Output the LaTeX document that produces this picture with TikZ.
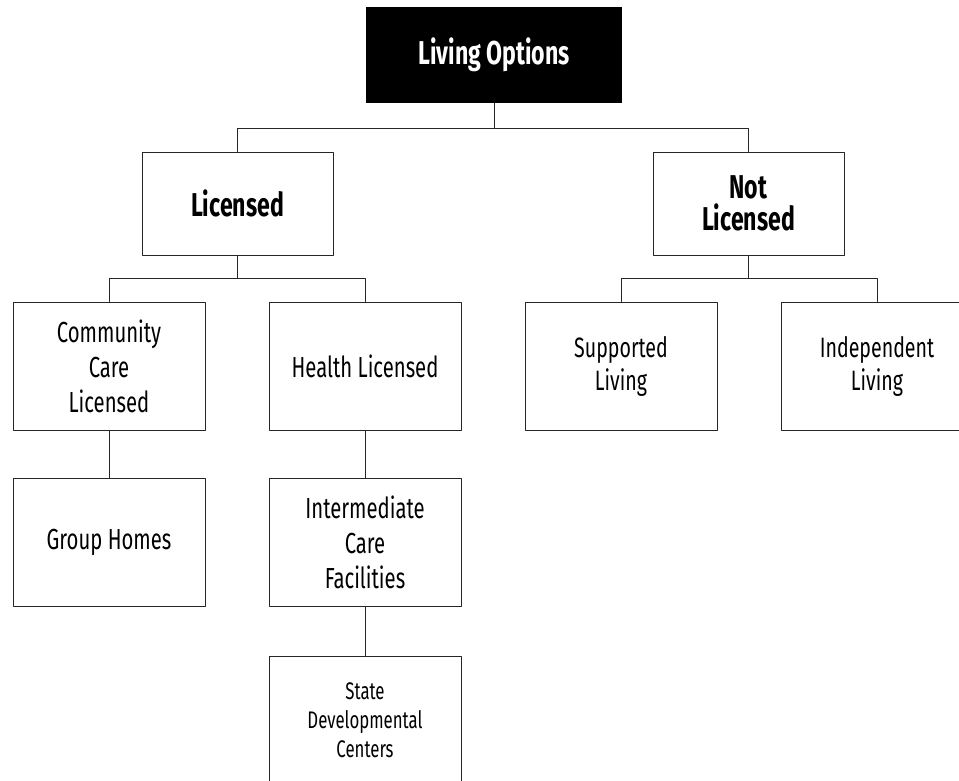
\documentclass[tikz,border=0pt]{standalone}
\usepackage{fontspec}
\setmainfont[FakeStretch=0.7]{Fira Sans}

\begin{document}
\begin{tikzpicture}[
	x=1pt,
	y=-1pt,
	line cap=round,
	line join=round,
	every node/.style={align=center},
	root/.style={
		shape=rectangle,
		minimum width=256pt,
		minimum height=96pt,
		fill=black,
		text=white,
		font=\fontsize{33}{33}\selectfont\bfseries
	},
	branch/.style={
		shape=rectangle,
		minimum width=191pt,
		minimum height=103pt,
		line width=1pt,
		draw=black!85,
		font=\fontsize{33}{32}\selectfont\bfseries
	},
	option/.style={
		shape=rectangle,
		minimum width=192pt,
		minimum height=128pt,
		line width=1pt,
		draw=black!85,
		font=\fontsize{29}{35}\selectfont
	},
	link/.style={line width=1pt, draw=black!85}
	]
	\useasboundingbox (0,0) rectangle (959,780);
	\clip (0,0) rectangle (959,780);
	% top
	\node [root] (living) at (494,55) {Living Options};
	% licensing
	\node [branch] (licensed) at (237.5,203.5) {Licensed};
	\node [branch] (notlicensed) at (748.5,203.5) {Not\\Licensed};
	% licensed options
	\node [option] (community) at (109,366) {Community\\Care\\Licensed};
	\node [option] (health) at (365,366) {Health Licensed};
	\node [option] (grouphomes) at (109,542) {Group Homes};
	\node [option] (intermediate) at (365,542) {Intermediate\\Care\\Facilities};
	\node [option, font=\fontsize{24}{29}\selectfont] (statedev) at (365,720) {State\\Developmental\\Centers};
	% not licensed options
	\node [option, font=\fontsize{28}{33}\selectfont] (supported) at (621,366) {Supported\\Living};
	\node [option, font=\fontsize{28}{33}\selectfont] (independent) at (877,366) {Independent\\Living};
	% connectors
	\draw [link] (living.south) -- ++(0,25) -| (licensed.north);
	\draw [link] (living.south) -- ++(0,25) -| (notlicensed.north);
	\draw [link] (licensed.south) -- ++(0,23) -| (community.north);
	\draw [link] (licensed.south) -- ++(0,23) -| (health.north);
	\draw [link] (notlicensed.south) -- ++(0,23) -| (supported.north);
	\draw [link] (notlicensed.south) -- ++(0,23) -| (independent.north);
	\draw [link] (community) -- (grouphomes);
	\draw [link] (health) -- (intermediate);
	\draw [link] (intermediate) -- (statedev);
\end{tikzpicture}
\end{document}
